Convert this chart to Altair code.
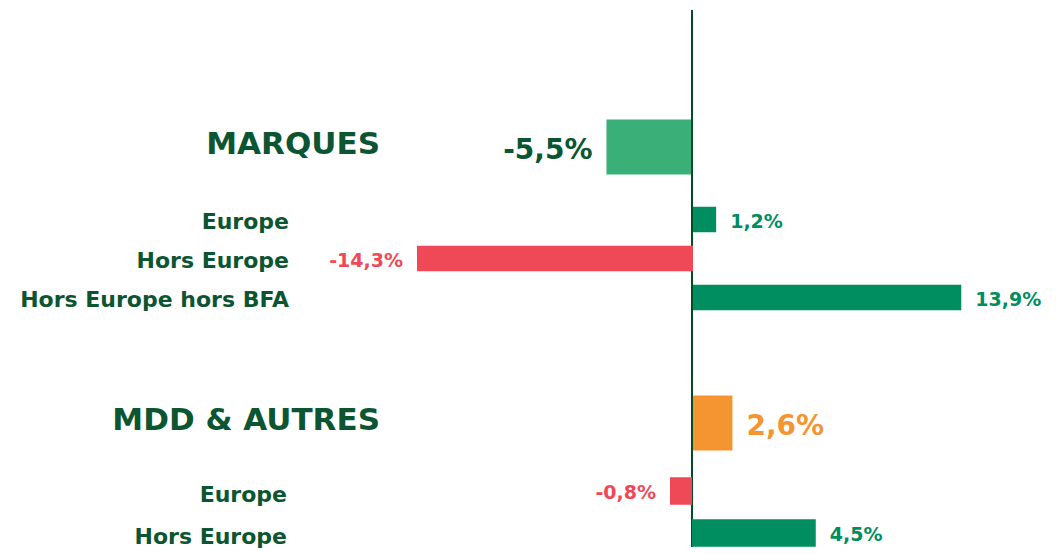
import altair as alt
import pandas as pd

# ---- data ----
head_cats = ["MARQUES", "MDD & AUTRES"]
head_vals = [-5.5, 2.6]
head_labels = ["-5,5%", "2,6%"]

marq_cats = ["Europe", "Hors Europe", "Hors Europe hors BFA"]
marq_vals = [1.2, -14.3, 13.9]
marq_labels = ["1,2%", "-14,3%", "13,9%"]

mdd_cats = ["Europe", "Hors Europe"]
mdd_vals = [-0.8, 4.5]
mdd_labels = ["-0,8%", "4,5%"]

# ---- styles ----
DARK = "#0b5530"
LINE = "#004d26"
GREEN_H = "#3aaf77"
GREEN = "#008d5f"
RED = "#ef4856"
ORANGE = "#f59532"
FONT = "DejaVu Sans"

W, H = 1048, 539

head_df = pd.DataFrame({
    "cat": head_cats, "val": head_vals, "label": head_labels,
    "bar": [GREEN_H, ORANGE], "txt": [DARK, ORANGE],
})

def sub_df(cats, vals, labels):
    return pd.DataFrame({
        "cat": cats, "val": vals, "label": labels,
        "bar": [GREEN if v >= 0 else RED for v in vals],
        "txt": [GREEN if v >= 0 else RED for v in vals],
    })

marq_df = sub_df(marq_cats, marq_vals, marq_labels)
mdd_df = sub_df(mdd_cats, mdd_vals, mdd_labels)


def group(df, cats, xdom, yrange, bar_size, cat_x, cat_size, cat_dy,
          val_size, val_dy, rule=False):
    base = alt.Chart(df)
    x = alt.X("val:Q", scale=alt.Scale(domain=xdom, nice=False, zero=False), axis=None)
    y = alt.Y("cat:N", sort=cats,
              scale=alt.Scale(domain=cats, range=yrange, paddingInner=0, paddingOuter=0),
              axis=None)
    bars = base.mark_bar(size=bar_size).encode(
        x=x, x2=alt.datum(0), y=y,
        color=alt.Color("bar:N", scale=None),
    )
    pos = base.transform_filter("datum.val >= 0").mark_text(
        align="left", baseline="middle", dx=14, dy=val_dy,
        font=FONT, fontWeight="bold", fontSize=val_size,
    ).encode(x=x, y=y, text="label:N", color=alt.Color("txt:N", scale=None))
    neg = base.transform_filter("datum.val < 0").mark_text(
        align="right", baseline="middle", dx=-14, dy=val_dy,
        font=FONT, fontWeight="bold", fontSize=val_size,
    ).encode(x=x, y=y, text="label:N", color=alt.Color("txt:N", scale=None))
    cat_txt = base.mark_text(
        align="right", baseline="middle", dy=cat_dy,
        font=FONT, fontWeight="bold", fontSize=cat_size, color=DARK,
    ).encode(x=alt.value(cat_x), y=y, text="cat:N")
    layers = [bars, pos, neg, cat_txt]
    if rule:
        r = base.mark_rule(color=LINE, strokeWidth=2).encode(
            x=alt.datum(0), y=alt.value(2), y2=alt.value(H)
        )
        layers.append(r)
    return alt.layer(*layers)


g_head = group(head_df, head_cats, [-684 / 15.55, 364 / 15.55], [1, 553], 55,
               372, 31, -2, 28, 4, rule=True)
g_marq = group(marq_df, marq_cats, [-685 / 19.3, 363 / 19.3], [192, 309], 25.5,
               281, 22, 2, 19, 2)
g_mdd = group(mdd_df, mdd_cats, [-684 / 27.5, 364 / 27.5], [462, 546], 27.5,
              279, 22, 4, 19, 2)

chart = alt.layer(g_head, g_marq, g_mdd).resolve_scale(
    x="independent", y="independent", color="independent"
).properties(width=W, height=H, padding=0).configure_view(stroke=None)

chart.save("out.html", embed_options={"renderer": "svg", "actions": False})
